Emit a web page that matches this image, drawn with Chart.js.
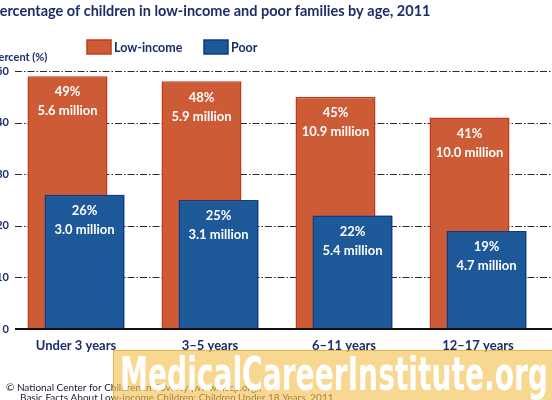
<!DOCTYPE html>
<html><head><meta charset="utf-8">
<script src="https://cdn.jsdelivr.net/npm/chart.js@4/dist/chart.umd.min.js"></script>
<style>
html,body{margin:0;padding:0;background:#fff;overflow:hidden;width:552px;height:400px}
#wrap{position:absolute;left:-12px;top:0;width:564px;height:400px}
</style></head><body>
<div id="wrap"><canvas id="c" width="564" height="400"></canvas></div>
<script>
const categories = ['Under 3 years', '3–5 years', '6–11 years', '12–17 years'];
const lowIncomePct = [49, 48, 45, 41];
const poorPct = [26, 25, 22, 19];
const lowIncomeMillions = ['5.6', '5.9', '10.9', '10.0'];
const poorMillions = ['3.0', '3.1', '5.4', '4.7'];
const yTicks = [0, 10, 20, 30, 40, 50];
const seriesNames = ['Low-income', 'Poor'];
const titleText = 'Percentage of children in low-income and poor families by age, 2011';
const yAxisTitle = 'Percent (%)';
const footerLines = ['© National Center for Children in Poverty (www.nccp.org),', 'Basic Facts About Low-income Children: Children Under 18 Years, 2011'];
const watermarkText = 'MedicalCareerInstitute.org';

const NAVY = '#1b2d6b';
const ORANGE = '#cd5b36', ORANGE_B = '#c23a1c';
const BLUE = '#1d5998', BLUE_B = '#0f3c86';
const OX = 12; // canvas offset vs page

const labelsPlugin = {
  id: 'custom',
  beforeDatasetsDraw(chart) {
    const ctx = chart.ctx, y = chart.scales.y, a = chart.chartArea;
    ctx.save();
    ctx.strokeStyle = '#2a2a2a';
    ctx.lineWidth = 1;
    ctx.setLineDash([7, 2, 1.5, 2]);
    yTicks.forEach(v => {
      if (v === 0) return;
      const py = Math.round(y.getPixelForValue(v)) + 0.5;
      ctx.beginPath(); ctx.moveTo(OX + 15, py); ctx.lineTo(a.right + 10, py); ctx.stroke();
    });
    ctx.restore();
  },
  afterDatasetsDraw(chart) {
    const ctx = chart.ctx, y = chart.scales.y, a = chart.chartArea;
    ctx.save();
    // draw the Poor bars on top of the Low-income bars
    chart.getDatasetMeta(1).data.forEach(el => el.draw(ctx, a));
    // x axis line
    ctx.strokeStyle = '#111'; ctx.lineWidth = 2;
    const p0 = y.getPixelForValue(0);
    ctx.beginPath(); ctx.moveTo(OX + 15, p0); ctx.lineTo(a.right + 10, p0); ctx.stroke();
    // data labels
    ctx.fillStyle = '#fff';
    ctx.font = 'bold 13px Lato';
    ctx.textAlign = 'center'; ctx.textBaseline = 'middle';
    const mills = [lowIncomeMillions, poorMillions];
    const pcts = [lowIncomePct, poorPct];
    chart.data.datasets.forEach((ds, di) => {
      chart.getDatasetMeta(di).data.forEach((bar, i) => {
        ctx.fillText(pcts[di][i] + '%', bar.x, bar.y + 16);
        ctx.fillText(mills[di][i] + ' million', bar.x, bar.y + 35);
      });
    });
    ctx.restore();
  },
  afterDraw(chart) {
    const ctx = chart.ctx;
    ctx.save();
    // title
    ctx.fillStyle = NAVY;
    ctx.textAlign = 'left'; ctx.textBaseline = 'alphabetic';
    ctx.font = 'bold 14.5px Lato';
    ctx.fillText(titleText, OX - 9, 16);
    // y axis title
    ctx.font = 'bold 11px Lato';
    ctx.fillText(yAxisTitle, OX - 8, 61);
    // legend
    const cols = [[ORANGE, ORANGE_B], [BLUE, BLUE_B]];
    const lx = [OX + 87, OX + 204];
    ctx.font = 'bold 12.5px Lato';
    seriesNames.forEach((n, i) => {
      ctx.fillStyle = cols[i][0]; ctx.strokeStyle = cols[i][1]; ctx.lineWidth = 1.5;
      ctx.fillRect(lx[i], 40, 24, 14); ctx.strokeRect(lx[i], 40, 24, 14);
      ctx.fillStyle = NAVY;
      ctx.fillText(n, lx[i] + 27, 52);
    });
    // footer
    ctx.fillStyle = '#1a1a2a';
    ctx.font = '10px Lato';
    ctx.fillText(footerLines[0], OX + 6, 391);
    ctx.fillText(footerLines[1], OX + 20, 401);
    // watermark
    ctx.fillStyle = 'rgba(243,192,78,0.62)';
    ctx.fillRect(OX + 113, 350, 460, 52);
    ctx.strokeStyle = 'rgba(225,170,60,0.8)'; ctx.lineWidth = 1;
    ctx.strokeRect(OX + 113.5, 350.5, 460, 52);
    ctx.fillStyle = '#ffffff';
    ctx.font = 'bold 46px "DejaVu Sans Condensed", "DejaVu Sans", sans-serif';
    ctx.textAlign = 'left';
    const w = ctx.measureText(watermarkText).width;
    ctx.translate(OX + 120, 390);
    ctx.scale(428 / w, 1);
    ctx.fillText(watermarkText, 0, 0);
    ctx.restore();
  }
};

new Chart(document.getElementById('c'), {
  type: 'bar',
  data: {
    labels: categories,
    datasets: [
      { label: seriesNames[0], data: lowIncomePct, backgroundColor: ORANGE, borderColor: ORANGE_B, borderWidth: 1.5, borderSkipped: 'bottom' },
      { label: seriesNames[1], data: poorPct, backgroundColor: BLUE, borderColor: BLUE_B, borderWidth: 1.5, borderSkipped: 'bottom' }
    ]
  },
  options: {
    responsive: false,
    animation: false,
    events: [],
    categoryPercentage: 34 / 134,
    barPercentage: 80 / 17,
    layout: { padding: { top: 71, right: 7, left: 0, bottom: 0 } },
    plugins: { legend: { display: false }, title: { display: false }, tooltip: { enabled: false } },
    scales: {
      x: {
        grid: { display: false, drawTicks: false }, border: { display: false },
        ticks: { color: NAVY, font: { family: 'Lato', weight: 'bold', size: 13 }, padding: 9, maxRotation: 0 },
        afterFit(s) { s.height = 71; }
      },
      y: {
        min: 0, max: 50,
        afterBuildTicks(s) { s.ticks = yTicks.map(v => ({ value: v })); },
        grid: { display: false, drawTicks: false }, border: { display: false },
        ticks: { color: NAVY, font: { family: 'Lato', weight: 'bold', size: 11 }, padding: 0 },
        afterFit(s) { s.width = 21; }
      }
    }
  },
  plugins: [labelsPlugin]
});
</script>
</body></html>
